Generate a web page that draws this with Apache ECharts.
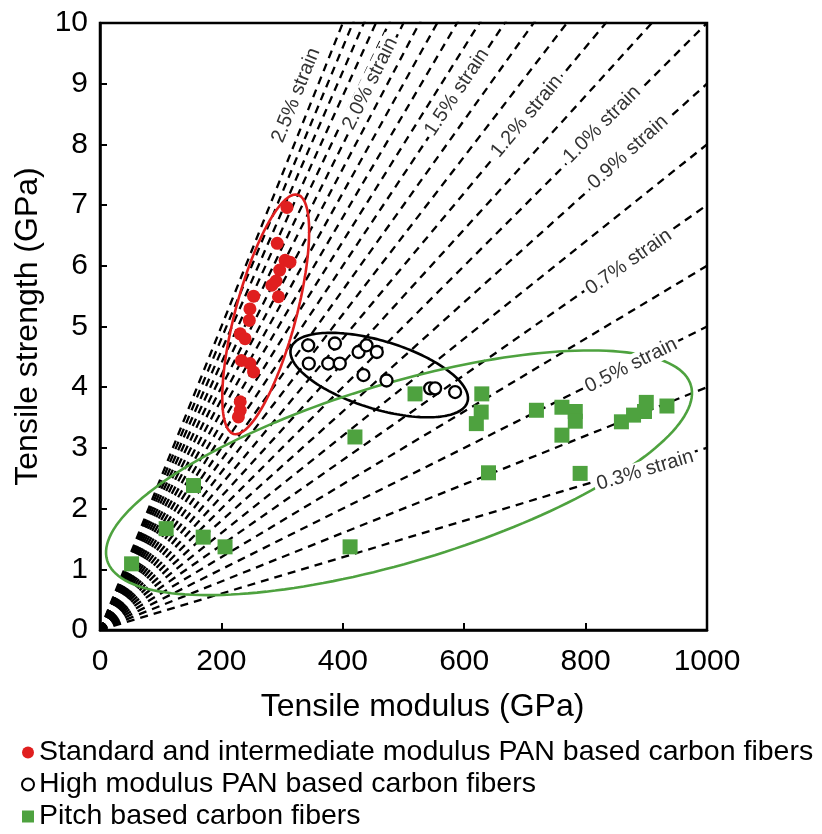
<!DOCTYPE html>
<html><head><meta charset="utf-8">
<script src="https://cdn.jsdelivr.net/npm/echarts@6/dist/echarts.min.js"></script>
<style>html,body{margin:0;padding:0;background:#fff}#c{width:822px;height:834px}</style>
</head><body><div id="c"></div>
<script>
// ---- data ----
const xTicks = [0, 200, 400, 600, 800, 1000];
const yTicks = [0, 1, 2, 3, 4, 5, 6, 7, 8, 9, 10];
// strain guide lines (%)
const strainLevels = [0.3,0.4,0.5,0.6,0.7,0.8,0.9,1.0,1.1,1.2,1.3,1.4,1.5,1.6,1.7,1.8,1.9,2.0,2.1,2.2,2.3,2.4,2.5];
// strain labels: text, strain, position [modulus, strength]
const strainLabelText = ['2.5% strain','2.0% strain','1.5% strain','1.2% strain','1.0% strain','0.9% strain','0.7% strain','0.5% strain','0.3% strain'];
const strainLabelStrain = [2.5, 2.0, 1.5, 1.2, 1.0, 0.9, 0.7, 0.5, 0.3];
const strainLabelPos = [[323,8.81],[445,9.0],[588,8.86],[703,8.46],[827,8.33],[870,7.87],[871,6.06],[875,4.36],[898,2.63]];
// fibers [modulus GPa, strength GPa]
const panStandard = [[308,6.96],[292,6.37],[305,6.09],[313,6.06],[296,5.93],[283,5.68],[290,5.75],[294,5.49],[253,5.50],[247,5.29],[246,5.10],[231,4.88],[239,4.80],[233,4.44],[247,4.39],[253,4.25],[231,3.76],[231,3.62],[228,3.51]];
const panHighModulus = [[343,4.69],[387,4.72],[426,4.58],[439,4.69],[456,4.58],[344,4.39],[376,4.39],[395,4.39],[434,4.20],[472,4.11],[544,3.98],[552,3.98],[585,3.92]];
const pitchBased = [[52,1.09],[109,1.67],[154,2.38],[170,1.53],[206,1.37],[412,1.37],[420,3.18],[519,3.89],[629,3.89],[628,3.59],[620,3.40],[640,2.59],[719,3.62],[761,3.67],[783,3.60],[783,3.44],[761,3.21],[791,2.58],[859,3.43],[879,3.54],[900,3.75],[897,3.60],[934,3.69]];
// group ellipses: [center modulus, center strength, semi-major (100 GPa units), semi-minor, angle deg]
const ellipseStandard = [273, 5.2, 2.04, 0.5, 75];
const ellipseHighModulus = [460, 4.2, 1.52, 0.56, -17];
const ellipsePitch = [492.6, 2.59, 5.02, 1.47, 16.7];
const seriesNames = ['Standard and intermediate modulus PAN based carbon fibers','High modulus PAN based carbon fibers','Pitch based carbon fibers'];

// ---- build ----
const RED = '#e01f1f', GREEN = '#4ea23f', FONT = "'Liberation Sans', Arial, sans-serif";
function ellipsePts(e){
  const [cx, cy, a, b, angDeg] = e; const t = angDeg*Math.PI/180; const pts=[];
  for(let i=0;i<=180;i++){ const p=i/180*2*Math.PI;
    const x = cx/100 + a*Math.cos(t)*Math.cos(p) - b*Math.sin(t)*Math.sin(p);
    const y = cy + a*Math.sin(t)*Math.cos(p) + b*Math.cos(t)*Math.sin(p);
    pts.push([x*100, y]); }
  return pts;
}
const chart = echarts.init(document.getElementById('c'), null, {renderer:'canvas'});
const series = [];
strainLevels.forEach(s => series.push({
  type:'line', data:[[0,0],[xTicks[xTicks.length-1], s*xTicks[xTicks.length-1]/100]], symbol:'none', silent:true, z:1,
  lineStyle:{color:'#000', width:2.3, type:[8,6]}, clip:true
}));
[[ellipseStandard, RED],[ellipseHighModulus,'#000'],[ellipsePitch, GREEN]].forEach(([e,c]) => series.push({
  type:'line', data:ellipsePts(e), symbol:'none', silent:true, z:2, smooth:false, clip:true,
  lineStyle:{color:c, width:2.6}
}));
series.push({
  type:'scatter', silent:true, z:3, symbolSize:0, itemStyle:{opacity:1},
  data: strainLabelText.map((t,i)=>({name:t, value:strainLabelPos[i]})),
  label:{show:true, formatter:'{b}', position:'inside', align:'center', verticalAlign:'middle', opacity:1,
    color:'#333', fontSize:20, fontFamily:FONT, backgroundColor:'#fff', padding:[0,3]}
});
series.push({name:seriesNames[0], type:'scatter', z:5, symbol:'circle', symbolSize:13, data:panStandard, itemStyle:{color:RED, opacity:1}});
series.push({name:seriesNames[1], type:'scatter', z:5, symbol:'circle', symbolSize:12, data:panHighModulus, itemStyle:{color:'#fff', borderColor:'#000', borderWidth:2.3, opacity:1}});
series.push({name:seriesNames[2], type:'scatter', z:5, symbol:'rect', symbolSize:15, data:pitchBased, itemStyle:{color:GREEN, opacity:1}});

const option = {
  animation:false,
  grid:{left:100, right:115, top:23, bottom:204, show:true, borderColor:'#000', borderWidth:2.5, containLabel:false},
  xAxis:{type:'value', min:0, max:1000, interval:200, name:'Tensile modulus (GPa)', nameLocation:'middle', nameGap:61,
    nameTextStyle:{fontSize:32, color:'#000', fontFamily:FONT, padding:[0,0,0,38]},
    axisLine:{show:true, lineStyle:{color:'#000', width:2.5}}, axisTick:{show:true, inside:true, length:7, lineStyle:{color:'#000', width:2}},
    axisLabel:{fontSize:30, color:'#000', fontFamily:FONT, margin:17, formatter:v=>xTicks.includes(v)?String(v):''}, splitLine:{show:false}},
  yAxis:{type:'value', min:0, max:10, interval:1, name:'Tensile strength (GPa)', nameLocation:'middle', nameGap:52,
    nameTextStyle:{fontSize:32, color:'#000', fontFamily:FONT},
    axisLine:{show:true, lineStyle:{color:'#000', width:2.5}}, axisTick:{show:true, inside:true, length:7, lineStyle:{color:'#000', width:2}},
    axisLabel:{fontSize:30, color:'#000', fontFamily:FONT, margin:12, formatter:v=>yTicks.includes(v)?String(v):''}, splitLine:{show:false}},
  legend:{data:seriesNames, orient:'vertical', left:16, top:733, width:800, height:300, itemGap:3, itemWidth:12, itemHeight:12,
    textStyle:{fontSize:28.5, color:'#000', fontFamily:FONT}, selectedMode:false},
  series
};
chart.setOption(option);
// rotate labels along their strain lines (pixel space)
const p0 = chart.convertToPixel({gridIndex:0},[0,0]);
const p1 = chart.convertToPixel({gridIndex:0},[1000,10]);
const kx = (p1[0]-p0[0])/1000, ky = (p0[1]-p1[1])/10;
const labelIdx = strainLevels.length + 3;
series[labelIdx].data = strainLabelText.map((t,i)=>({name:t, value:strainLabelPos[i],
  label:{rotate: Math.atan(strainLabelStrain[i]/100*ky/kx)*180/Math.PI}}));
chart.setOption({series});
</script></body></html>
